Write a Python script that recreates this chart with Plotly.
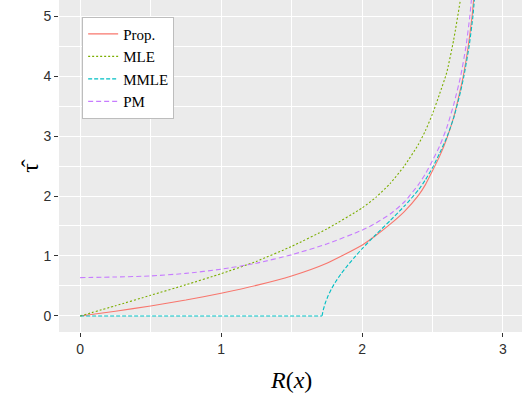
import plotly.graph_objects as go

# ---- data ----
prop_r   = [0, 0.25, 0.5, 0.75, 1.0, 1.25, 1.5, 1.75, 2.0, 2.1, 2.2, 2.3, 2.4, 2.45, 2.5, 2.55, 2.6, 2.65, 2.7, 2.72, 2.754, 2.781, 2.80]
prop_tau = [0, 0.08, 0.167, 0.265, 0.38, 0.51, 0.667, 0.88, 1.18, 1.345, 1.53, 1.74, 2.01, 2.19, 2.42, 2.66, 2.95, 3.31, 3.8, 4.02, 4.5, 5.0, 5.5]

mle_r   = [0, 0.25, 0.5, 0.75, 1.0, 1.25, 1.5, 1.75, 2.0, 2.1, 2.2, 2.3, 2.4, 2.45, 2.5, 2.55, 2.6, 2.65, 2.7, 2.72]
mle_tau = [0, 0.17, 0.345, 0.52, 0.705, 0.91, 1.16, 1.45, 1.80, 1.98, 2.21, 2.5, 2.86, 3.09, 3.37, 3.7, 4.05, 4.6, 5.3, 5.65]

mmle_flat_r   = [0, 1.716]
mmle_flat_tau = [0, 0]
mmle_r   = [1.716, 1.725, 1.74, 1.76, 1.785, 1.815, 1.85, 1.89, 1.94, 2.0, 2.1, 2.2, 2.3, 2.4, 2.45, 2.5, 2.55, 2.6, 2.65, 2.7, 2.723, 2.76, 2.787, 2.805]
mmle_tau = [0, 0.1, 0.22, 0.34, 0.46, 0.58, 0.70, 0.82, 0.96, 1.12, 1.36, 1.59, 1.83, 2.10, 2.27, 2.47, 2.71, 2.97, 3.3, 3.75, 4.0, 4.5, 5.0, 5.5]

pm_r   = [0, 0.25, 0.5, 0.75, 1.0, 1.25, 1.5, 1.75, 2.0, 2.1, 2.2, 2.3, 2.4, 2.45, 2.5, 2.55, 2.6, 2.65, 2.7, 2.738, 2.765, 2.785]
pm_tau = [0.64, 0.65, 0.667, 0.71, 0.78, 0.88, 1.02, 1.2, 1.43, 1.55, 1.70, 1.90, 2.19, 2.37, 2.59, 2.83, 3.13, 3.52, 4.0, 4.5, 5.0, 5.5]

x_ticks = [0, 1, 2, 3]
y_ticks = [0, 1, 2, 3, 4, 5]
x_title = "<i>R</i>(<i>x</i>)"
y_title = "τ\u0302"

# ---- styling ----
RED, GREEN, CYAN, PURPLE = "#F8766D", "#7CAE00", "#00BFC4", "#C77CFF"
LW = 1.1
SM = 0.5

fig = go.Figure()
fig.add_trace(go.Scatter(x=prop_r, y=prop_tau, mode="lines", name="Prop.",
                         line=dict(color=RED, width=LW, shape="spline", smoothing=SM)))
fig.add_trace(go.Scatter(x=mle_r, y=mle_tau, mode="lines", name="MLE",
                         line=dict(color=GREEN, width=LW, dash="2px,2px", shape="spline", smoothing=SM)))
fig.add_trace(go.Scatter(x=mmle_flat_r, y=mmle_flat_tau, mode="lines", name="MMLE",
                         legendgroup="mmle",
                         line=dict(color=CYAN, width=LW, dash="4px,2px")))
fig.add_trace(go.Scatter(x=mmle_r, y=mmle_tau, mode="lines", name="MMLE",
                         legendgroup="mmle", showlegend=False,
                         line=dict(color=CYAN, width=LW, dash="4px,2px", shape="spline", smoothing=SM)))
fig.add_trace(go.Scatter(x=pm_r, y=pm_tau, mode="lines", name="PM",
                         line=dict(color=PURPLE, width=LW, dash="5px,3px", shape="spline", smoothing=SM)))

tickfont = dict(family="Liberation Sans, Arial, sans-serif", size=14, color="#303030")
serif = "Liberation Serif, Times New Roman, serif"

fig.update_layout(
    width=522, height=400,
    margin=dict(l=59, r=0, t=0, b=68),
    paper_bgcolor="white",
    plot_bgcolor="#EBEBEB",
    showlegend=True,
    legend=dict(
        x=0.05, y=0.95, xanchor="left", yanchor="top",
        bgcolor="white", bordercolor="#BDBDBD", borderwidth=1,
        font=dict(family=serif, size=15, color="black"),
        tracegroupgap=0, itemwidth=30,
    ),
    xaxis=dict(
        range=[-0.15, 3.135], automargin=False,
        tickvals=x_ticks, ticktext=[str(v) for v in x_ticks],
        showgrid=True, gridcolor="white", gridwidth=1.1,
        minor=dict(dtick=0.5, tick0=0, showgrid=True, gridcolor="white", gridwidth=0.5),
        zeroline=False, showline=False,
        ticks="outside", ticklen=4, tickwidth=1, tickcolor="#333333",
        tickfont=tickfont,
    ),
    yaxis=dict(
        range=[-0.267, 5.267], automargin=False,
        tickvals=y_ticks, ticktext=[str(v) for v in y_ticks],
        showgrid=True, gridcolor="white", gridwidth=1.1,
        minor=dict(dtick=0.5, tick0=0, showgrid=True, gridcolor="white", gridwidth=0.5),
        zeroline=False, showline=False,
        ticks="outside", ticklen=4, tickwidth=1, tickcolor="#333333",
        tickfont=tickfont,
    ),
    annotations=[
        dict(text=x_title, xref="paper", yref="paper", x=0.5, y=-0.145,
             xanchor="center", yanchor="middle", showarrow=False,
             font=dict(family=serif, size=24, color="black")),
        dict(text=y_title, xref="paper", yref="paper", x=-0.063, y=0.5,
             xanchor="center", yanchor="middle", showarrow=False, textangle=-90,
             font=dict(family=serif, size=24, color="black")),
    ],
)

fig.write_html("out.html", config={"displayModeBar": False},
               post_script="document.body.style.margin='0px';")
